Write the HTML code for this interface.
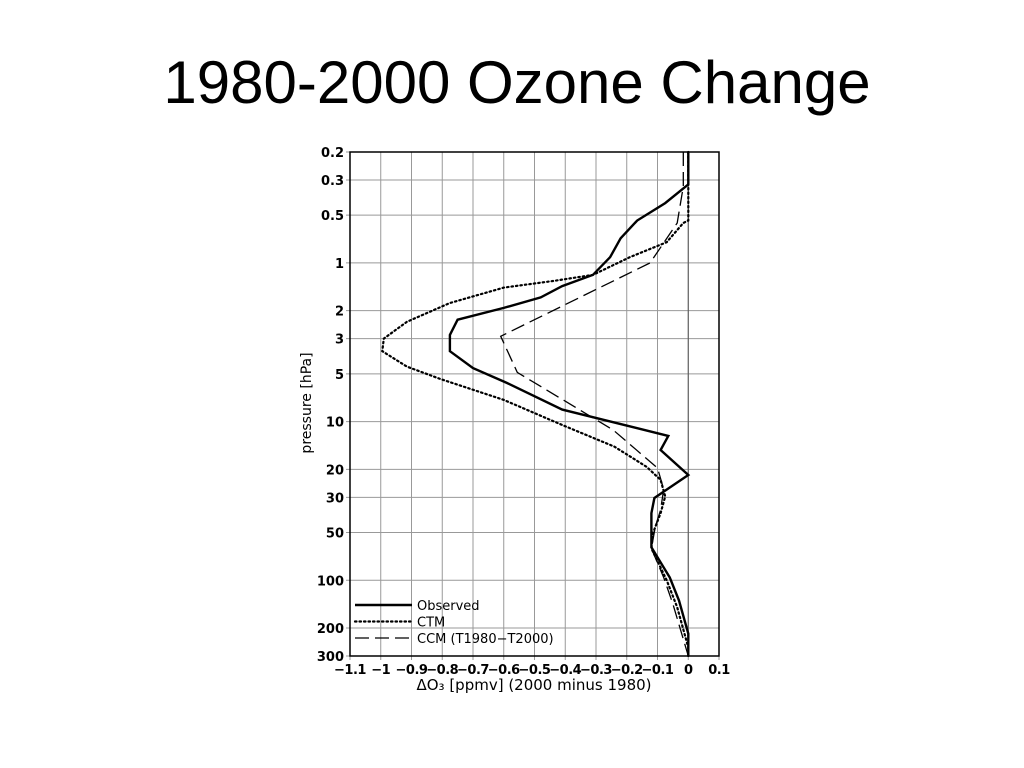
<!DOCTYPE html>
<html><head><meta charset="utf-8"><style>
body{margin:0;background:#fff;width:1024px;height:768px;overflow:hidden}
#title{position:absolute;left:0;width:1034px;top:48px;line-height:68px;text-align:center;font:60px "Liberation Sans",sans-serif;color:#000}
svg{position:absolute;left:0;top:0}
text{font-family:"DejaVu Sans","Liberation Sans",sans-serif}
</style></head><body>
<div id="title">1980-2000 Ozone Change</div>
<svg id="chart" width="1024" height="768"></svg>
<script>
const xTicks=[-1.1,-1,-0.9,-0.8,-0.7,-0.6,-0.5,-0.4,-0.3,-0.2,-0.1,0,0.1];
const xTickLabels=["−1.1","−1","−0.9","−0.8","−0.7","−0.6","−0.5","−0.4","−0.3","−0.2","−0.1","0","0.1"];
const yTicks=[0.2,0.3,0.5,1,2,3,5,10,20,30,50,100,200,300];
const obsP=[0.2,0.32,0.42,0.54,0.70,0.92,1.19,1.4,1.65,1.92,2.28,2.84,3.6,4.6,5.7,8.4,12.3,15.1,21.7,27.6,30.3,37.8,62,96,134,217,300];
const obsV=[0,0,-0.075,-0.166,-0.22,-0.254,-0.31,-0.41,-0.48,-0.60,-0.75,-0.775,-0.775,-0.70,-0.59,-0.41,-0.065,-0.09,0,-0.08,-0.11,-0.12,-0.12,-0.06,-0.03,0,0];
const ctmP=[0.2,0.54,0.56,0.74,0.92,1.19,1.3,1.43,1.79,2.35,3.0,3.6,4.5,5.4,7.3,10.5,14.4,19.3,23.3,29.6,37.8,50.6,63,100,148,265,300];
const ctmV=[0,0,-0.016,-0.07,-0.19,-0.31,-0.44,-0.6,-0.775,-0.915,-0.99,-0.995,-0.915,-0.805,-0.6,-0.41,-0.24,-0.135,-0.09,-0.075,-0.09,-0.115,-0.12,-0.07,-0.036,0,0];
const ccmP=[0.2,0.33,0.56,1.0,2.9,4.9,11.3,19.6,26.7,36,46,63,96,141,300];
const ccmV=[-0.016,-0.016,-0.036,-0.124,-0.61,-0.556,-0.244,-0.1,-0.08,-0.09,-0.107,-0.12,-0.08,-0.05,0];

const L=350,R=719,T=152,B=656;
const xs=v=>L+(v+1.1)/1.2*(R-L);
const ys=p=>T+(Math.log10(p)-Math.log10(0.2))/(Math.log10(300)-Math.log10(0.2))*(B-T);
const svg=document.getElementById('chart');const NS='http://www.w3.org/2000/svg';
function mk(tag,at,parent){const e=document.createElementNS(NS,tag);for(const k in at)e.setAttribute(k,at[k]);(parent||svg).appendChild(e);return e;}
xTicks.forEach((v,i)=>{
 const g=mk('line',{x1:xs(v),x2:xs(v),y1:T,y2:B+4,stroke:'#999','stroke-width':1});
 
 
 const t=mk('text',{x:xs(v),y:B+18,'text-anchor':'middle','font-size':13,'font-weight':'bold','letter-spacing':'-0.5'});
 t.textContent=xTickLabels[i];
 
 
});
yTicks.forEach(p=>{
 const g=mk('line',{x1:L-4,x2:R,y1:ys(p),y2:ys(p),stroke:'#999','stroke-width':1});
 
 
 const t=mk('text',{x:L-6,y:ys(p)+5,'text-anchor':'end','font-size':13,'font-weight':'bold'});
 t.textContent=String(p);
 
 
});
const fr=mk('rect',{x:L,y:T,width:R-L,height:B-T,fill:'none',stroke:'#000','stroke-width':1.5});


const z=mk('line',{x1:xs(0),x2:xs(0),y1:T,y2:B,stroke:'#555','stroke-width':1});


function series(P,V,style,name){
 const d=P.map((p,i)=>(i?'L':'M')+xs(V[i]).toFixed(1)+' '+ys(p).toFixed(1)).join(' ');
 const e=mk('path',Object.assign({d:d,fill:'none',stroke:'#000'},style));
 
 
}
series(ctmP,ctmV,{'stroke-width':2.2,'stroke-dasharray':'1.5 3','stroke-linecap':'round'},'ctm-line');
series(ccmP,ccmV,{'stroke-width':1.3,'stroke-dasharray':'14 6'},'ccm-line');
series(obsP,obsV,{'stroke-width':2.4},'observed-line');
const leg=[['Observed',{'stroke-width':2.4}],['CTM',{'stroke-width':2.2,'stroke-dasharray':'1.5 3','stroke-linecap':'round'}],['CCM  (T1980−T2000)',{'stroke-width':1.3,'stroke-dasharray':'14 6'}]];
leg.forEach((l,i)=>{
 const y=605+i*16.5;
 const ln=mk('line',Object.assign({x1:355,x2:412,y1:y,y2:y,stroke:'#000'},l[1]));
 
 
 const t=mk('text',{x:417,y:y+5,'font-size':13,'xml:space':'preserve'});
 t.textContent=l[0];
 
 
});
const xt=mk('text',{x:534,y:690,'text-anchor':'middle','font-size':15,'xml:space':'preserve'});
xt.textContent='ΔO₃ [ppmv] (2000  minus  1980)';


const yt=mk('text',{x:0,y:0,'text-anchor':'middle','font-size':14,'xml:space':'preserve',transform:'translate(311,403) rotate(-90)'});
yt.textContent='pressure  [hPa]';


</script>
</body></html>
